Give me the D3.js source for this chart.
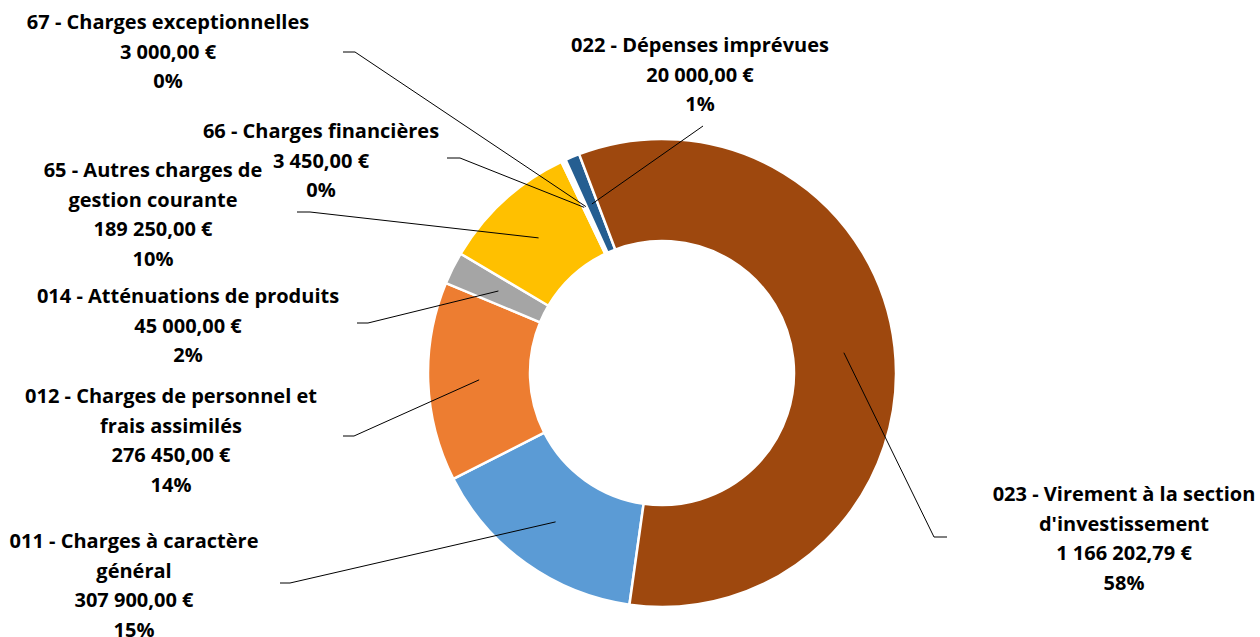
<!DOCTYPE html>
<html>
<head>
<meta charset="utf-8">
<script src="https://cdn.jsdelivr.net/npm/d3@7"></script>
<style>
  html, body { margin: 0; padding: 0; background: #fff; }
  svg { display: block; }
</style>
</head>
<body>
<div id="chart"></div>
<script>
const categories = [
  '011 - Charges à caractère général',
  '012 - Charges de personnel et frais assimilés',
  '014 - Atténuations de produits',
  '65 - Autres charges de gestion courante',
  '66 - Charges financières',
  '67 - Charges exceptionnelles',
  '022 - Dépenses imprévues',
  "023 - Virement à la section d'investissement"
];
const values = [307900, 276450, 45000, 189250, 3450, 3000, 20000, 1166202.79];
const COLORS = ['#5B9BD5', '#ED7D31', '#A5A5A5', '#FFC000', '#4472C4', '#70AD47', '#255E91', '#9E480E'];

// label placement, by hand like Excel's: centre x, first line y, words on line 1, leader start
const labelLayout = [
  {x: 134, y: 541, br: 5, lead: [[280, 583], [290, 583]]},
  {x: 171, y: 396, br: 6, lead: [[343, 436], [354, 436]]},
  {x: 188, y: 296, br: null, lead: [[357, 323], [368, 323]]},
  {x: 153, y: 170, br: 5, lead: [[297, 212], [310, 212]]},
  {x: 321, y: 131, br: null, lead: [[447, 158], [460, 158]]},
  {x: 168, y: 22, br: null, lead: [[343, 52], [355, 52]]},
  {x: 700, y: 45, br: null, lead: [[703, 126]]},
  {x: 1124, y: 494, br: 6, lead: [[947, 537], [934, 537]]}
];

const width = 1260;
const height = 637;
const cx = 662, cy = 373;
const outerR = 234, innerR = 132;
const firstAngle = 188; // degrees, clockwise from 12 o'clock
const lineH = 29.5;

const fr = d3.formatLocale({decimal: ',', thousands: ' ', grouping: [3], currency: ['', ' €']});
const money = fr.format('$,.2f');

// Excel-style rounded percentages that add up to 100
function percents(vals) {
  const total = d3.sum(vals);
  const raw = vals.map((v) => v / total * 100);
  const out = raw.map(Math.floor);
  let left = 100 - d3.sum(out);
  const order = d3.range(vals.length).sort((a, b) => (raw[b] - out[b]) - (raw[a] - out[a]));
  for (let i = 0; left > 0; i++, left--) out[order[i]] += 1;
  return out;
}
const pct = percents(values);

const data = categories.map((c, i) => ({name: c, value: values[i], pct: pct[i], color: COLORS[i], layout: labelLayout[i]}));

const svg = d3.select('#chart')
  .append('svg')
    .attr('width', width)
    .attr('height', height);

const pie = d3.pie()
  .sort(null)
  .value((d) => d.value)
  .startAngle(firstAngle * Math.PI / 180)
  .endAngle((firstAngle + 360) * Math.PI / 180);

const arc = d3.arc()
  .innerRadius(innerR)
  .outerRadius(outerR);

const arcs = pie(data);

const g = svg.append('g')
  .attr('transform', `translate(${cx},${cy})`);

g.selectAll('path')
  .data(arcs)
  .enter().append('path')
    .attr('d', arc)
    .attr('fill', (d) => d.data.color)
    .attr('stroke', '#fff')
    .attr('stroke-width', 2.5)
    .attr('stroke-linejoin', 'round');

// leader lines
const line = d3.line();
svg.append('g')
  .selectAll('path')
  .data(arcs)
  .enter().append('path')
    .attr('d', (d) => {
      const c = arc.centroid(d);
      const pts = d.data.layout.lead.concat([[c[0] + cx, c[1] + cy]]);
      return line(pts);
    })
    .attr('fill', 'none')
    .attr('stroke', '#000')
    .attr('stroke-width', 1);

// labels
const labels = svg.append('g')
  .attr('font-family', '"Open Sans", Lato, sans-serif')
  .attr('font-weight', 'bold')
  .attr('font-size', '20px')
  .attr('fill', '#000')
  .attr('text-anchor', 'middle');

arcs.forEach((d) => {
  const L = d.data.layout;
  const words = d.data.name.split(' ');
  let rows = L.br ? [words.slice(0, L.br).join(' '), words.slice(L.br).join(' ')] : [d.data.name];
  rows = rows.concat([money(d.data.value), `${d.data.pct}%`]);
  const t = labels.append('text');
  rows.forEach((r, i) => {
    t.append('tspan')
      .attr('x', L.x)
      .attr('y', L.y + i * lineH)
      .attr('dy', '0.35em')
      .text(r);
  });
});
</script>
</body>
</html>
